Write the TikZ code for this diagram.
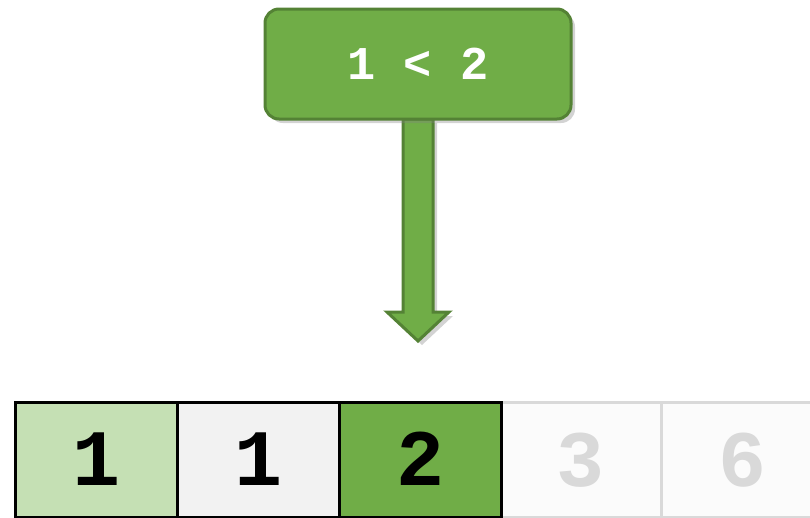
\documentclass[tikz,border=0pt]{standalone}
\usepackage{fontspec}
\setmonofont{Liberation Mono}
\usetikzlibrary{shadows}
\definecolor{gmid}{HTML}{70AD47}
\definecolor{gdark}{HTML}{548235}
\definecolor{glight}{HTML}{C5E0B4}
\definecolor{gray1}{HTML}{F2F2F2}
\definecolor{gray2}{HTML}{FBFBFB}
\definecolor{gray3}{HTML}{D9D9D9}
\tikzset{
  cellbox/.style={draw=black, line width=3.2pt, minimum width=162pt, minimum height=115pt, inner sep=0pt, anchor=north west, font=\ttfamily\bfseries\fontsize{80}{82}\selectfont},
  fadedcell/.style={cellbox, draw=gray3, fill=gray2, text=gray3},
  mybox/.style={draw=gdark, fill=gmid, line width=3pt, rounded corners=14pt, minimum width=306pt, minimum height=110pt, text=white, font=\ttfamily\bfseries\fontsize{47}{49}\selectfont, drop shadow={shadow xshift=4pt, shadow yshift=-4pt, opacity=0.35, fill=gray}},
  blockarrow/.style={draw=gdark, fill=gmid, line width=3pt, line join=miter, drop shadow={shadow xshift=4pt, shadow yshift=-4pt, opacity=0.35, fill=gray}}
}
\begin{document}
\begin{tikzpicture}[x=1pt,y=-1pt]
\useasboundingbox (0,0) rectangle (810,517);
\clip (0,0) rectangle (810,517);
% faded cells
\node[fadedcell] (c4) at (498,401) {3};
\node[fadedcell] (c5) at (660,401) {6};
% active cells
\node[cellbox, fill=glight] (c1) at (14,401) {\raisebox{2pt}{1}};
\node[cellbox, fill=gray1] (c2) at (176,401) {\raisebox{2pt}{1}};
\node[cellbox, fill=gmid] (c3) at (338,401) {\raisebox{2pt}{2}};
% box
\coordinate (boxc) at (418,64);
\coordinate (tip) at (418,341);
\path (boxc) node[minimum width=306pt, minimum height=110pt] (cmpshape) {};
\path[blockarrow] ([xshift=-15pt]cmpshape.south) -- ([xshift=-15pt]cmpshape.south |- 0,312) -- ([xshift=-31pt]tip |- 0,312) -- (tip) -- ([xshift=31pt]tip |- 0,312) -- ([xshift=15pt]cmpshape.south |- 0,312) -- ([xshift=15pt]cmpshape.south) -- cycle;
\node[mybox] (cmp) at (boxc) {1 < 2};
\end{tikzpicture}
\end{document}
